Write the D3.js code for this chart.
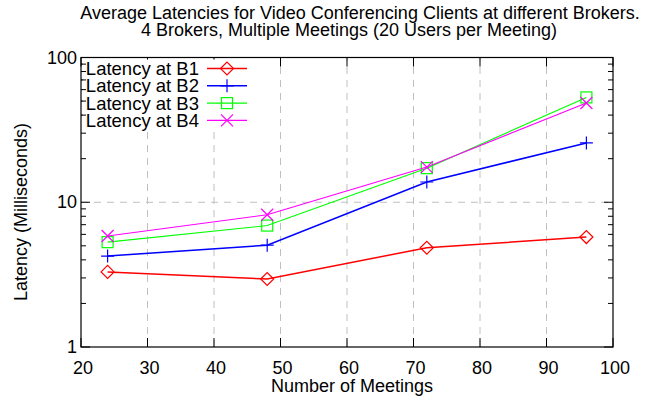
<!DOCTYPE html>
<html><head><meta charset="utf-8">
<script src="https://cdn.jsdelivr.net/npm/d3@7"></script>
<style>body{margin:0;background:#fff}svg{display:block}text{font-family:"Liberation Sans",Arial,sans-serif}</style>
</head><body>
<svg id="c" width="657" height="404"></svg>
<script>
const meetings = [24, 48, 72, 96];
const latB1 = [3.3, 2.95, 4.85, 5.75];
const latB2 = [4.25, 5.05, 13.8, 25.7];
const latB3 = [5.3, 6.9, 17.2, 53];
const latB4 = [5.85, 8.2, 17.5, 48.5];
const seriesNames = ["Latency at B1", "Latency at B2", "Latency at B3", "Latency at B4"];
const seriesColors = ["#ff0000", "#0000ff", "#00ff00", "#ff00ff"];
const seriesMarkers = ["diamond", "plus", "square", "cross"];
const xTicks = [20, 30, 40, 50, 60, 70, 80, 90, 100];
const yTicks = [1, 10, 100];
const titleLines = ["Average Latencies for Video Conferencing Clients at different Brokers.", "4 Brokers, Multiple Meetings (20 Users per Meeting)"];

const FS = 18;
const svg = d3.select("#c");
const L = 81, R = 613, T = 57.5, B = 347;
const x = d3.scaleLinear().domain([20, 100]).range([L, R]);
const y = d3.scaleLog().domain([1, 100]).range([B, T]);

// title
svg.selectAll("text.title").data(titleLines).join("text")
  .attr("x", (d, i) => i === 0 ? 360 : 349).attr("y", (d, i) => 19 + i * 17)
  .attr("text-anchor", "middle").attr("font-size", FS).text(d => d);

// grid
const g = svg.append("g");
g.selectAll("line.gx").data(xTicks.slice(1, -1)).join("line")
  .attr("x1", d => x(d)).attr("x2", d => x(d)).attr("y1", B).attr("y2", T)
  .attr("stroke", "#c0c0c0").attr("stroke-dasharray", "7,6");
g.append("line").attr("x1", L).attr("x2", R).attr("y1", y(10)).attr("y2", y(10))
  .attr("stroke", "#c0c0c0").attr("stroke-dasharray", "7,6");

// ticks
const minor = [];
for (let dec = 1; dec < 100; dec *= 10) for (let k = 2; k <= 9; k++) minor.push(dec * k);
const tk = svg.append("g").attr("stroke", "#000").attr("stroke-width", 1);
[[L, 1], [R, -1]].forEach(([x0, s]) => {
  tk.selectAll(null).data(yTicks).join("line")
    .attr("x1", x0).attr("x2", x0 + s * 9).attr("y1", d => y(d)).attr("y2", d => y(d));
  tk.selectAll(null).data(minor).join("line")
    .attr("x1", x0).attr("x2", x0 + s * 5).attr("y1", d => y(d)).attr("y2", d => y(d));
});
[[B, -1], [T, 1]].forEach(([y0, s]) => {
  tk.selectAll(null).data(xTicks).join("line")
    .attr("y1", y0).attr("y2", y0 + s * 9).attr("x1", d => x(d)).attr("x2", d => x(d));
});

// axis frame
svg.append("rect").attr("x", L).attr("y", T).attr("width", R - L).attr("height", B - T)
  .attr("fill", "none").attr("stroke", "#000").attr("stroke-width", 1.2);

// tick labels
svg.selectAll("text.xt").data(xTicks).join("text")
  .attr("x", d => x(d) + 2).attr("y", 374).attr("text-anchor", "middle")
  .attr("font-size", FS).text(d => d);
svg.selectAll("text.yt").data(yTicks).join("text")
  .attr("x", 77).attr("y", d => y(d) + 6).attr("text-anchor", "end")
  .attr("font-size", FS).text(d => d);

// axis labels
svg.append("text").attr("x", 352).attr("y", 392).attr("text-anchor", "middle")
  .attr("font-size", FS).text("Number of Meetings");
svg.append("text").attr("transform", "translate(27,212) rotate(-90)").attr("text-anchor", "middle")
  .attr("font-size", FS).text("Latency (Milliseconds)");

function marker(sel, type, color, cx, cy) {
  if (type === "diamond") sel.append("path").attr("d", `M${cx - 6.5},${cy}L${cx},${cy - 6.5}L${cx + 6.5},${cy}L${cx},${cy + 6.5}Z`)
    .attr("fill", "none").attr("stroke", color).attr("stroke-width", 1.2);
  if (type === "plus") sel.append("path").attr("d", `M${cx - 6.5},${cy}H${cx + 6.5}M${cx},${cy - 6.5}V${cy + 6.5}`)
    .attr("stroke", color).attr("stroke-width", 1.2);
  if (type === "square") sel.append("rect").attr("x", cx - 5.5).attr("y", cy - 5.5).attr("width", 11).attr("height", 11)
    .attr("fill", "none").attr("stroke", color).attr("stroke-width", 1.2);
  if (type === "cross") sel.append("path").attr("d", `M${cx - 6},${cy - 6}L${cx + 6},${cy + 6}M${cx - 6},${cy + 6}L${cx + 6},${cy - 6}`)
    .attr("stroke", color).attr("stroke-width", 1.2);
}

const allSeries = [latB1, latB2, latB3, latB4];
const widths = [1.5, 1.5, 1.1, 1.1];
const line = d3.line().x(d => x(d[0])).y(d => y(d[1]));
allSeries.forEach((vals, i) => {
  const pts = meetings.map((m, j) => [m, vals[j]]);
  svg.append("path").attr("d", line(pts)).attr("fill", "none")
    .attr("stroke", seriesColors[i]).attr("stroke-width", widths[i]);
  const mg = svg.append("g");
  pts.forEach(p => marker(mg, seriesMarkers[i], seriesColors[i], x(p[0]), y(p[1])));
});

// legend (opaque)
svg.append("rect").attr("x", L + 1.5).attr("y", T + 2).attr("width", 170).attr("height", 70).attr("fill", "#fff");
seriesNames.forEach((n, i) => {
  const yy = 68.5 + i * 17.3;
  svg.append("text").attr("x", 199).attr("y", yy + 6.5).attr("text-anchor", "end")
    .attr("font-size", FS + 0.5).text(n);
  svg.append("line").attr("x1", 207).attr("x2", 247).attr("y1", yy).attr("y2", yy)
    .attr("stroke", seriesColors[i]).attr("stroke-width", widths[i]);
  marker(svg, seriesMarkers[i], seriesColors[i], 227, yy);
});
// redraw left ticks over legend
svg.append("g").attr("stroke", "#000").selectAll(null).data(minor.filter(d => y(d) < T + 74)).join("line")
  .attr("x1", L).attr("x2", L + 5).attr("y1", d => y(d)).attr("y2", d => y(d));
</script>
</body></html>
